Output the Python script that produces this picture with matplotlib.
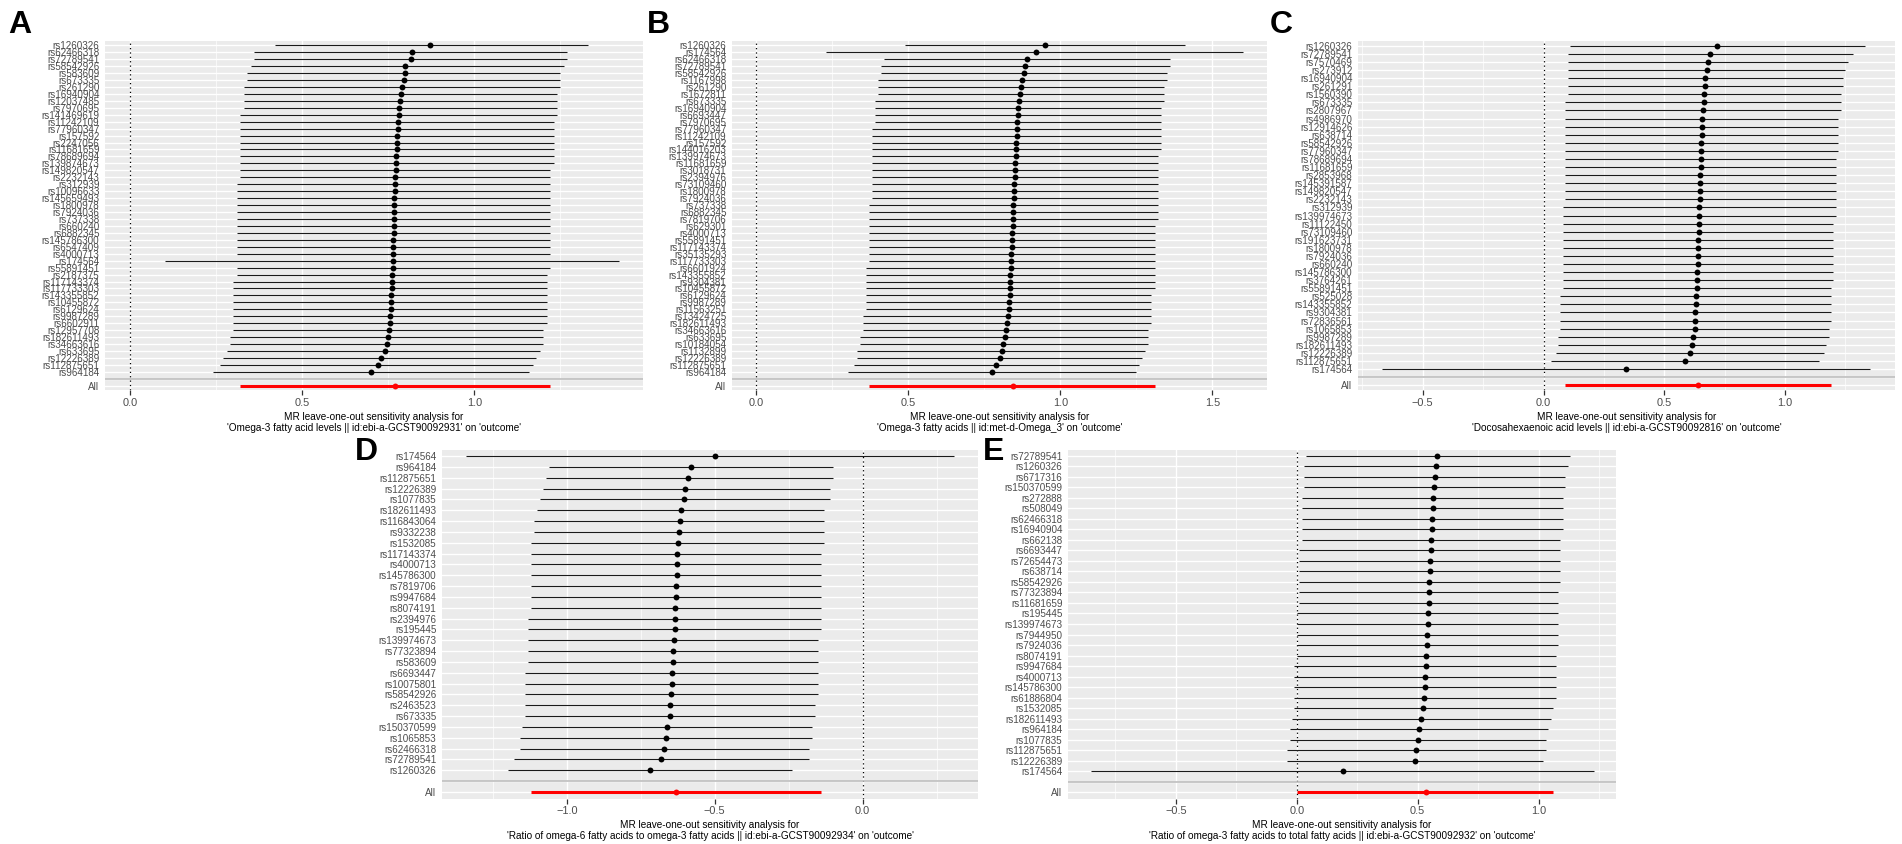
import matplotlib
matplotlib.use("Agg")
import matplotlib.pyplot as plt
from matplotlib.ticker import MultipleLocator, FuncFormatter

plt.rcParams['font.family'] = ['Liberation Sans', 'DejaVu Sans']

W, H = 1902, 844

# ---- A: Omega-3 fatty acid levels (rows listed top to bottom) ----
snps_a = ["rs1260326", "rs62466318", "rs72789541", "rs58542926", "rs583609", "rs673335",
          "rs261290", "rs16940904", "rs12037485", "rs7970695", "rs141469619", "rs11242109",
          "rs77960347", "rs157592", "rs2247056", "rs11681659", "rs78689694", "rs139874673",
          "rs149820547", "rs2232143", "rs312939", "rs10096633", "rs145659493", "rs1800978",
          "rs7924036", "rs737338", "rs660240", "rs6882345", "rs145786300", "rs6547409",
          "rs4000713", "rs174564", "rs55891451", "rs2187375", "rs117143374", "rs117733303",
          "rs143355852", "rs10455872", "rs6129624", "rs9987289", "rs6602911", "rs12957708",
          "rs182611493", "rs34663616", "rs633695", "rs12226389", "rs112875651", "rs964184"]
b_a = [0.87, 0.82, 0.815, 0.80, 0.80, 0.795, 0.79, 0.788, 0.785, 0.782, 0.78, 0.778,
       0.777, 0.776, 0.775, 0.774, 0.773, 0.772, 0.771, 0.770, 0.770, 0.769, 0.768, 0.768,
       0.767, 0.767, 0.766, 0.766, 0.765, 0.765, 0.764, 0.764, 0.763, 0.762, 0.761, 0.760,
       0.759, 0.758, 0.757, 0.756, 0.754, 0.752, 0.749, 0.745, 0.74, 0.73, 0.72, 0.70]
lo_a = [0.42, 0.36, 0.36, 0.35, 0.34, 0.34, 0.33, 0.33, 0.33, 0.33, 0.32, 0.32,
        0.32, 0.32, 0.32, 0.32, 0.32, 0.32, 0.32, 0.32, 0.31, 0.31, 0.31, 0.31,
        0.31, 0.31, 0.31, 0.31, 0.31, 0.31, 0.31, 0.10, 0.31, 0.31, 0.30, 0.30,
        0.30, 0.30, 0.30, 0.30, 0.30, 0.30, 0.29, 0.29, 0.28, 0.27, 0.26, 0.24]
up_a = [1.33, 1.27, 1.27, 1.26, 1.25, 1.25, 1.25, 1.24, 1.24, 1.24, 1.24, 1.23,
        1.23, 1.23, 1.23, 1.23, 1.23, 1.23, 1.22, 1.22, 1.22, 1.22, 1.22, 1.22,
        1.22, 1.22, 1.22, 1.22, 1.22, 1.22, 1.22, 1.42, 1.22, 1.21, 1.21, 1.21,
        1.21, 1.21, 1.21, 1.21, 1.21, 1.20, 1.20, 1.20, 1.19, 1.18, 1.17, 1.16]
all_a = [0.77, 0.32, 1.22]

# ---- B: Omega-3 fatty acids (met-d) ----
snps_b = ["rs1260326", "rs174564", "rs62466318", "rs72789541", "rs58542926", "rs1167998",
          "rs261290", "rs1672811", "rs673335", "rs16940904", "rs6693447", "rs7970695",
          "rs77960347", "rs11242109", "rs157592", "rs144016203", "rs139974673", "rs11681659",
          "rs3018731", "rs2394976", "rs73109460", "rs1800978", "rs7924036", "rs737338",
          "rs6882345", "rs7819706", "rs629301", "rs4000713", "rs55891451", "rs117143374",
          "rs35135293", "rs117733303", "rs6601924", "rs143355852", "rs9304381", "rs10455872",
          "rs6129624", "rs9987289", "rs11563251", "rs13424725", "rs182611493", "rs34663616",
          "rs633695", "rs10184054", "rs1132899", "rs12226389", "rs112875651", "rs964184"]
b_b = [0.95, 0.92, 0.89, 0.885, 0.88, 0.875, 0.87, 0.867, 0.865, 0.862, 0.86, 0.858,
       0.857, 0.856, 0.855, 0.854, 0.853, 0.852, 0.851, 0.850, 0.849, 0.848, 0.847, 0.846,
       0.845, 0.844, 0.843, 0.842, 0.841, 0.840, 0.839, 0.838, 0.837, 0.836, 0.835, 0.834,
       0.833, 0.832, 0.830, 0.828, 0.825, 0.822, 0.818, 0.813, 0.808, 0.80, 0.79, 0.775]
lo_b = [0.49, 0.23, 0.42, 0.41, 0.41, 0.40, 0.40, 0.40, 0.39, 0.39, 0.39, 0.39,
        0.38, 0.38, 0.38, 0.38, 0.38, 0.38, 0.38, 0.38, 0.38, 0.38, 0.38, 0.37,
        0.37, 0.37, 0.37, 0.37, 0.37, 0.37, 0.37, 0.37, 0.36, 0.36, 0.36, 0.36,
        0.36, 0.36, 0.36, 0.35, 0.35, 0.35, 0.34, 0.34, 0.33, 0.33, 0.32, 0.30]
up_b = [1.41, 1.60, 1.36, 1.36, 1.35, 1.35, 1.34, 1.34, 1.34, 1.33, 1.33, 1.33,
        1.33, 1.33, 1.33, 1.33, 1.32, 1.32, 1.32, 1.32, 1.32, 1.32, 1.32, 1.32,
        1.32, 1.32, 1.31, 1.31, 1.31, 1.31, 1.31, 1.31, 1.31, 1.31, 1.31, 1.31,
        1.30, 1.30, 1.30, 1.30, 1.30, 1.29, 1.29, 1.29, 1.28, 1.27, 1.26, 1.25]
all_b = [0.845, 0.37, 1.31]

# ---- C: Docosahexaenoic acid levels ----
snps_c = ["rs1260326", "rs72789541", "rs7570469", "rs273912", "rs16940904", "rs261291",
          "rs1560390", "rs673335", "rs2807967", "rs4986970", "rs12914626", "rs638714",
          "rs58542926", "rs77960347", "rs78689694", "rs11681659", "rs2853968", "rs145391587",
          "rs149820547", "rs2232143", "rs312939", "rs139974673", "rs11122450", "rs73109460",
          "rs191623731", "rs1800978", "rs7924036", "rs660240", "rs145786300", "rs3764261",
          "rs55891451", "rs525028", "rs143355852", "rs9304381", "rs72836561", "rs1065853",
          "rs9987289", "rs182611493", "rs12226389", "rs112875651", "rs174564"]
b_c = [0.72, 0.69, 0.68, 0.675, 0.67, 0.668, 0.665, 0.663, 0.66, 0.658, 0.656, 0.655,
       0.653, 0.652, 0.651, 0.65, 0.649, 0.648, 0.647, 0.646, 0.645, 0.644, 0.643, 0.642,
       0.641, 0.640, 0.639, 0.638, 0.637, 0.636, 0.635, 0.633, 0.631, 0.629, 0.627, 0.625,
       0.62, 0.615, 0.605, 0.585, 0.34]
lo_c = [0.11, 0.10, 0.10, 0.10, 0.10, 0.10, 0.10, 0.09, 0.09, 0.09, 0.09, 0.09,
        0.09, 0.09, 0.09, 0.09, 0.09, 0.09, 0.09, 0.09, 0.08, 0.08, 0.08, 0.08,
        0.08, 0.08, 0.08, 0.08, 0.08, 0.08, 0.08, 0.07, 0.07, 0.07, 0.07, 0.07,
        0.06, 0.06, 0.05, 0.03, -0.67]
up_c = [1.33, 1.28, 1.26, 1.25, 1.24, 1.24, 1.23, 1.23, 1.23, 1.22, 1.22, 1.22,
        1.22, 1.22, 1.21, 1.21, 1.21, 1.21, 1.21, 1.21, 1.21, 1.21, 1.20, 1.20,
        1.20, 1.20, 1.20, 1.20, 1.20, 1.20, 1.19, 1.19, 1.19, 1.19, 1.19, 1.18,
        1.18, 1.17, 1.16, 1.14, 1.35]
all_c = [0.64, 0.09, 1.19]

# ---- D: Ratio of omega-6 to omega-3 ----
snps_d = ["rs174564", "rs964184", "rs112875651", "rs12226389", "rs1077835", "rs182611493",
          "rs116843064", "rs9332238", "rs1532085", "rs117143374", "rs4000713", "rs145786300",
          "rs7819706", "rs9947684", "rs8074191", "rs2394976", "rs195445", "rs139974673",
          "rs77323894", "rs583609", "rs6693447", "rs10075801", "rs58542926", "rs2463523",
          "rs673335", "rs150370599", "rs1065853", "rs62466318", "rs72789541", "rs1260326"]
b_d = [-0.50, -0.58, -0.59, -0.60, -0.605, -0.615, -0.618, -0.622, -0.625, -0.627,
       -0.628, -0.629, -0.630, -0.632, -0.633, -0.634, -0.636, -0.638, -0.640, -0.642,
       -0.644, -0.646, -0.648, -0.650, -0.652, -0.66, -0.665, -0.67, -0.68, -0.72]
lo_d = [-1.34, -1.06, -1.07, -1.08, -1.09, -1.10, -1.11, -1.11, -1.12, -1.12,
        -1.12, -1.12, -1.12, -1.12, -1.12, -1.13, -1.13, -1.13, -1.13, -1.13,
        -1.14, -1.14, -1.14, -1.14, -1.14, -1.15, -1.16, -1.16, -1.18, -1.20]
up_d = [0.31, -0.10, -0.10, -0.11, -0.11, -0.13, -0.13, -0.13, -0.13, -0.14,
        -0.14, -0.14, -0.14, -0.14, -0.14, -0.14, -0.14, -0.15, -0.15, -0.15,
        -0.15, -0.15, -0.15, -0.16, -0.16, -0.17, -0.17, -0.18, -0.18, -0.24]
all_d = [-0.63, -1.12, -0.14]

# ---- E: Ratio of omega-3 to total fatty acids ----
snps_e = ["rs72789541", "rs1260326", "rs6717316", "rs150370599", "rs272888", "rs508049",
          "rs62466318", "rs16940904", "rs662138", "rs6693447", "rs72654473", "rs638714",
          "rs58542926", "rs77323894", "rs11681659", "rs195445", "rs139974673", "rs7944950",
          "rs7924036", "rs8074191", "rs9947684", "rs4000713", "rs145786300", "rs61886804",
          "rs1532085", "rs182611493", "rs964184", "rs1077835", "rs112875651", "rs12226389",
          "rs174564"]
b_e = [0.58, 0.575, 0.57, 0.568, 0.565, 0.562, 0.56, 0.558, 0.556, 0.554, 0.552, 0.55,
       0.548, 0.546, 0.545, 0.543, 0.541, 0.539, 0.537, 0.535, 0.533, 0.531, 0.529, 0.527,
       0.524, 0.515, 0.505, 0.50, 0.495, 0.49, 0.19]
lo_e = [0.04, 0.03, 0.03, 0.03, 0.02, 0.02, 0.02, 0.02, 0.02, 0.01, 0.01, 0.01,
        0.01, 0.01, 0.01, 0.00, 0.00, 0.00, 0.00, 0.00, -0.01, -0.01, -0.01, -0.01,
        -0.01, -0.02, -0.03, -0.03, -0.04, -0.04, -0.85]
up_e = [1.13, 1.12, 1.11, 1.11, 1.10, 1.10, 1.10, 1.10, 1.09, 1.09, 1.09, 1.09,
        1.09, 1.08, 1.08, 1.08, 1.08, 1.08, 1.08, 1.07, 1.07, 1.07, 1.07, 1.07,
        1.06, 1.05, 1.04, 1.03, 1.03, 1.02, 1.23]
all_e = [0.535, 0.0, 1.06]

head = "MR leave-one-out sensitivity analysis for\n"
lab_a = head + "'Omega-3 fatty acid levels || id:ebi-a-GCST90092931' on 'outcome'"
lab_b = head + "'Omega-3 fatty acids || id:met-d-Omega_3' on 'outcome'"
lab_c = head + "'Docosahexaenoic acid levels || id:ebi-a-GCST90092816' on 'outcome'"
lab_d = head + "'Ratio of omega-6 fatty acids to omega-3 fatty acids || id:ebi-a-GCST90092934' on 'outcome'"
lab_e = head + "'Ratio of omega-3 fatty acids to total fatty acids || id:ebi-a-GCST90092932' on 'outcome'"

fig = plt.figure(figsize=(W / 100, H / 100), dpi=100)


def minus_fmt(v, pos):
    return f"{v:.1f}".replace("-", "\u2212")


def loo_panel(box, snps, b, lo, up, tot, xlim, xlab):
    x0, y0, x1, y1 = box
    ax = fig.add_axes([x0 / W, 1 - y1 / H, (x1 - x0) / W, (y1 - y0) / H])
    n = len(snps)
    ys = [n + 2 - i for i in range(n)]
    ax.set_facecolor('#EBEBEB')
    for s in ax.spines.values():
        s.set_visible(False)
    ax.set_xlim(xlim)
    ax.set_ylim(0.4, n + 2.6)
    ax.set_yticks(range(1, n + 3))
    ax.set_yticklabels(['All', ''] + snps[::-1])
    ax.xaxis.set_major_locator(MultipleLocator(0.5))
    ax.xaxis.set_minor_locator(MultipleLocator(0.25))
    ax.xaxis.set_major_formatter(FuncFormatter(minus_fmt))
    ax.set_axisbelow(True)
    ax.grid(which='major', color='white', lw=1.0)
    ax.grid(which='minor', axis='x', color='white', lw=0.5)
    ax.tick_params(axis='y', length=0, pad=4, labelsize=7.1, labelcolor='#4D4D4D')
    ax.tick_params(axis='x', which='major', length=3.5, width=0.9, color='#333333',
                   pad=2, labelsize=7.9, labelcolor='#4D4D4D')
    ax.tick_params(axis='x', which='minor', length=0)
    ax.axvline(0, color='black', lw=0.9, ls=(0, (1, 2.5)), zorder=1.5)
    ax.hlines(ys, lo, up, color='#1a1a1a', lw=0.8, zorder=2)
    ax.scatter(b, ys, s=18, color='black', linewidths=0, zorder=3)
    ax.hlines(1, tot[1], tot[2], color='red', lw=2.2, zorder=2)
    ax.scatter([tot[0]], [1], s=18, color='red', linewidths=0, zorder=3)
    ax.axhline(2, color='#BEBEBE', lw=1.2, zorder=2.5)
    ax.set_xlabel(xlab, fontsize=7.2, labelpad=3, linespacing=1.1, color='black')
    return ax


loo_panel((105, 41, 643, 390), snps_a, b_a, lo_a, up_a, all_a, (-0.073, 1.49), lab_a)
loo_panel((732, 41, 1267, 390), snps_b, b_b, lo_b, up_b, all_b, (-0.08, 1.68), lab_b)
loo_panel((1358, 41, 1895, 390), snps_c, b_c, lo_c, up_c, all_c, (-0.768, 1.455), lab_c)
loo_panel((442, 449.5, 978, 798.5), snps_d, b_d, lo_d, up_d, all_d, (-1.422, 0.39), lab_d)
loo_panel((1068, 449.5, 1616, 798.5), snps_e, b_e, lo_e, up_e, all_e, (-0.946, 1.32), lab_e)

# panel letters
for letter, px, py in [("A", 8, 33), ("B", 647, 33), ("C", 1270, 33), ("D", 355, 460), ("E", 983, 460)]:
    fig.text(px / W, 1 - py / H, letter, fontsize=23, fontweight='bold', va='baseline', ha='left')

fig.savefig("out.png", dpi=100)
